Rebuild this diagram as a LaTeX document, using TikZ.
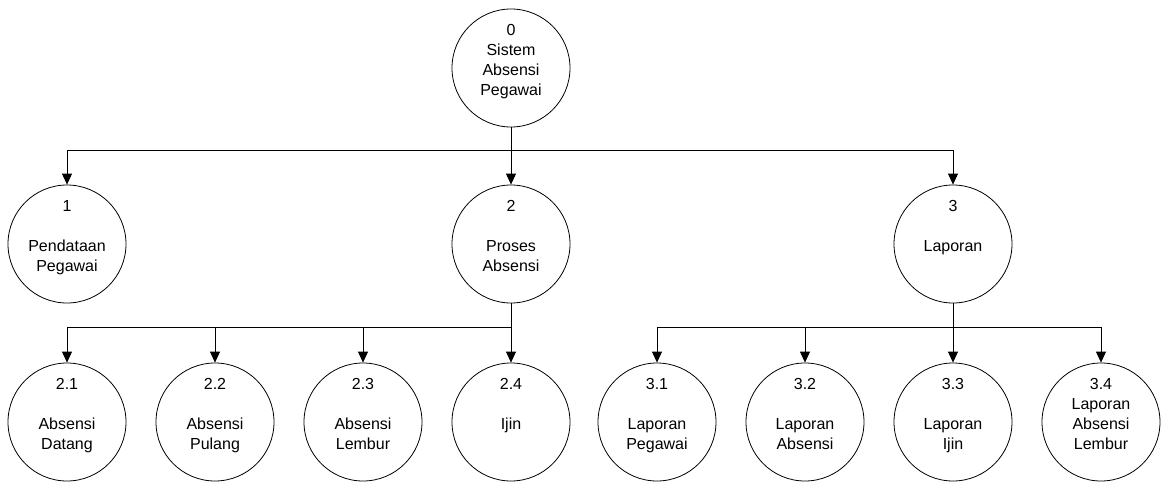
\documentclass[tikz,border=0pt]{standalone}
\usepackage{fontspec}
\setmainfont{Liberation Sans}
\usetikzlibrary{arrows.meta}

\begin{document}
\begin{tikzpicture}[x=1pt, y=-1pt,
  proses/.style={draw, circle, line width=0.8pt, minimum size=118pt, inner sep=0pt},
  ptext/.style={anchor=north, align=center, inner sep=0pt, font=\fontsize{16}{20}\selectfont},
  alir/.style={-{Triangle[length=11pt,width=10pt]}, line width=0.8pt}]
  \useasboundingbox (0,0) rectangle (1168,482);
  % --- Level 0 ---
  \node[proses] (p0) at (511,68) {};
  \node[ptext] (t0) at (511,21) {\strut 0\\Sistem\\Absensi\\Pegawai};
  % --- Level 1 ---
  \node[proses] (p1) at (67,244) {};
  \node[ptext] (t1) at (67,197) {\strut 1\\[20pt]Pendataan\\Pegawai};
  \node[proses] (p2) at (511,244) {};
  \node[ptext] (t2) at (511,197) {\strut 2\\[20pt]Proses\\Absensi};
  \node[proses] (p3) at (953,244) {};
  \node[ptext] (t3) at (953,197) {\strut 3\\[20pt]Laporan};
  % --- Level 2 : Proses Absensi ---
  \node[proses] (p21) at (67,422) {};
  \node[ptext] (t21) at (67,375) {\strut 2.1\\[20pt]Absensi\\Datang};
  \node[proses] (p22) at (215,422) {};
  \node[ptext] (t22) at (215,375) {\strut 2.2\\[20pt]Absensi\\Pulang};
  \node[proses] (p23) at (363,422) {};
  \node[ptext] (t23) at (363,375) {\strut 2.3\\[20pt]Absensi\\Lembur};
  \node[proses] (p24) at (511,422) {};
  \node[ptext] (t24) at (511,375) {\strut 2.4\\[20pt]Ijin};
  % --- Level 2 : Laporan ---
  \node[proses] (p31) at (657,422) {};
  \node[ptext] (t31) at (657,375) {\strut 3.1\\[20pt]Laporan\\Pegawai};
  \node[proses] (p32) at (805,422) {};
  \node[ptext] (t32) at (805,375) {\strut 3.2\\[20pt]Laporan\\Absensi};
  \node[proses] (p33) at (953,422) {};
  \node[ptext] (t33) at (953,375) {\strut 3.3\\[20pt]Laporan\\Ijin};
  \node[proses] (p34) at (1101,422) {};
  \node[ptext] (t34) at (1101,375) {\strut 3.4\\Laporan\\Absensi\\Lembur};
  % Percabangan
  \coordinate (b0) at (511,150);
  \coordinate (b2) at (511,327);
  \coordinate (b3) at (953,327);
  \draw[line width=0.8pt] (p0.south) -- (b0);
  \foreach \n in {1,2,3}
    \draw[alir] (b0) -| (p\n.north);
  \draw[line width=0.8pt] (p2.south) -- (b2);
  \foreach \n in {21,22,23,24}
    \draw[alir] (b2) -| (p\n.north);
  \draw[line width=0.8pt] (p3.south) -- (b3);
  \foreach \n in {31,32,33,34}
    \draw[alir] (b3) -| (p\n.north);
\end{tikzpicture}
\end{document}
